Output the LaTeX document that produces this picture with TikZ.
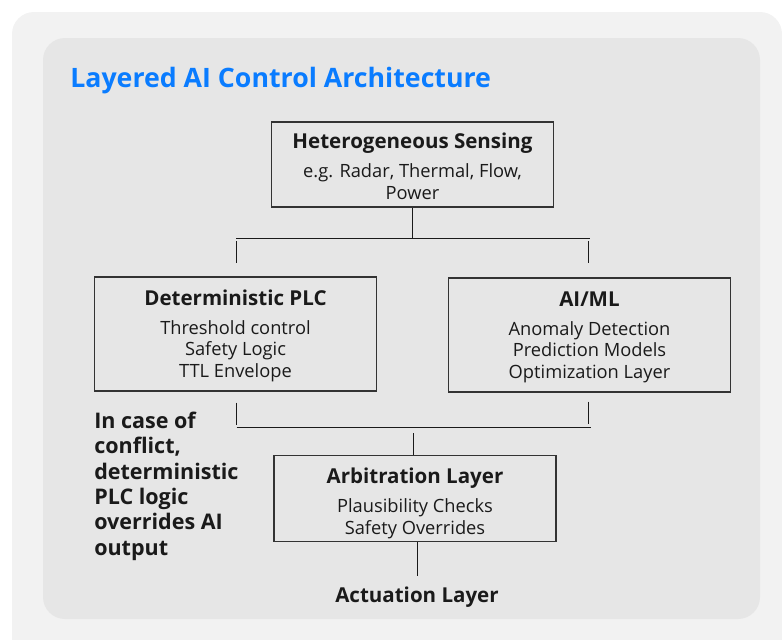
\documentclass[tikz,border=0pt]{standalone}
\usepackage{fontspec}
\setmainfont{Open Sans}
\usepackage{tikz}
\usetikzlibrary{positioning}
\usepackage{xcolor}

\definecolor{panel_outer}{HTML}{F2F2F2}
\definecolor{panel_inner}{HTML}{E6E6E6}
\definecolor{title_blue}{RGB}{10,124,255}
\definecolor{ink}{HTML}{1A1A1A}
\definecolor{frame}{HTML}{333333}

\newcommand{\headfont}{\fontsize{14.6}{15.4}\selectfont\bfseries}
% box heading, the strut sets how far the text block sits down
\newcommand{\boxhead}[2][13.6pt]{{\headfont\rule{0pt}{#1}#2}}

\begin{document}
\begin{tikzpicture}[
            x=0.025cm, y=-0.025cm,
            layer_box/.style={draw=frame, line width=0.9pt, inner sep=0pt, align=center,
                text=ink, minimum width=7.05cm,
                font=\fontsize{13}{15.4}\selectfont},
            note/.style={anchor=base west, align=left, text=ink, inner sep=0pt,
                font=\fontsize{15.3}{18}\selectfont\bfseries},
            line/.style={draw=ink, line width=0.7pt}
        ]
        \useasboundingbox (0,0) rectangle (782,639);
        \clip (0,0) rectangle (782,639);

        % Background panels
        \fill[panel_outer, rounded corners=0.55cm] (12,12) rectangle (782,660);
        \fill[panel_inner, rounded corners=0.55cm] (43,38) rectangle (760,619);

        % Title
        \node[anchor=base west, text=title_blue, inner sep=0pt,
              font=\fontsize{19}{22}\selectfont\bfseries] (title) at (70,87.5)
              {Layered AI Control Architecture};

        % Top level - sensing
        \node[layer_box, minimum height=2.125cm] (sensing) at (412.5,164.5)
              {\boxhead{Heterogeneous Sensing}\\[5pt]
               e.g. Radar, Thermal, Flow,\\ Power};

        % Middle level - PLC and AI/ML
        \node[layer_box, minimum height=2.85cm] (plc) at (235.5,334)
              {\boxhead[14pt]{Deterministic PLC}\\[5pt]
               Threshold control\\ Safety Logic\\ TTL Envelope};
        \node[layer_box, minimum height=2.85cm] (aiml) at (589.5,335)
              {\boxhead[14pt]{AI/ML}\\[5pt]
               Anomaly Detection\\ Prediction Models\\ Optimization Layer};

        % Lower level - arbitration
        \node[layer_box, minimum height=2.15cm] (arbitration) at (415,498.5)
              {\boxhead[18pt]{Arbitration Layer}\\[5pt]
               Plausibility Checks\\ Safety Overrides};

        % Bottom - actuation
        \node[anchor=base, inner sep=0pt, text=ink, font=\headfont] (actuation) at (417,602.7)
              {Actuation Layer};

        % Side note (base is the last line)
        \node[note] (conflict_note) at (94,555)
              {In case of\\ conflict,\\ deterministic\\ PLC logic\\ overrides AI\\ output};

        % Split and merge points
        \coordinate (split) at (412.5,238);
        \coordinate (split_l) at (236,238);
        \coordinate (split_r) at (590,238);
        \coordinate (plc_in_top) at (236,241);
        \coordinate (plc_in_bot) at (236,263);
        \coordinate (aiml_in_top) at (588.5,241);
        \coordinate (aiml_in_bot) at (588.5,263);

        \coordinate (plc_out_top) at (236.5,402.5);
        \coordinate (plc_out_bot) at (236.5,425);
        \coordinate (aiml_out_top) at (588.5,401.5);
        \coordinate (aiml_out_bot) at (588.5,424);
        \coordinate (merge_l) at (236.5,427.3);
        \coordinate (merge_r) at (591,427.3);
        \coordinate (merge) at (413.5,433);
        \coordinate (act_in) at (417,576);

        \draw[line] (sensing) -- (split);
        \draw[line] (split_l) -- (split_r);
        \draw[line] (plc_in_top) -- (plc_in_bot);
        \draw[line] (aiml_in_top) -- (aiml_in_bot);

        \draw[line] (plc_out_top) -- (plc_out_bot);
        \draw[line] (aiml_out_top) -- (aiml_out_bot);
        \draw[line] (merge_l) -- (merge_r);
        \draw[line] (merge) -- (merge |- arbitration.north);

        \draw[line] (arbitration.south -| act_in) -- (act_in);

    \end{tikzpicture}
\end{document}
